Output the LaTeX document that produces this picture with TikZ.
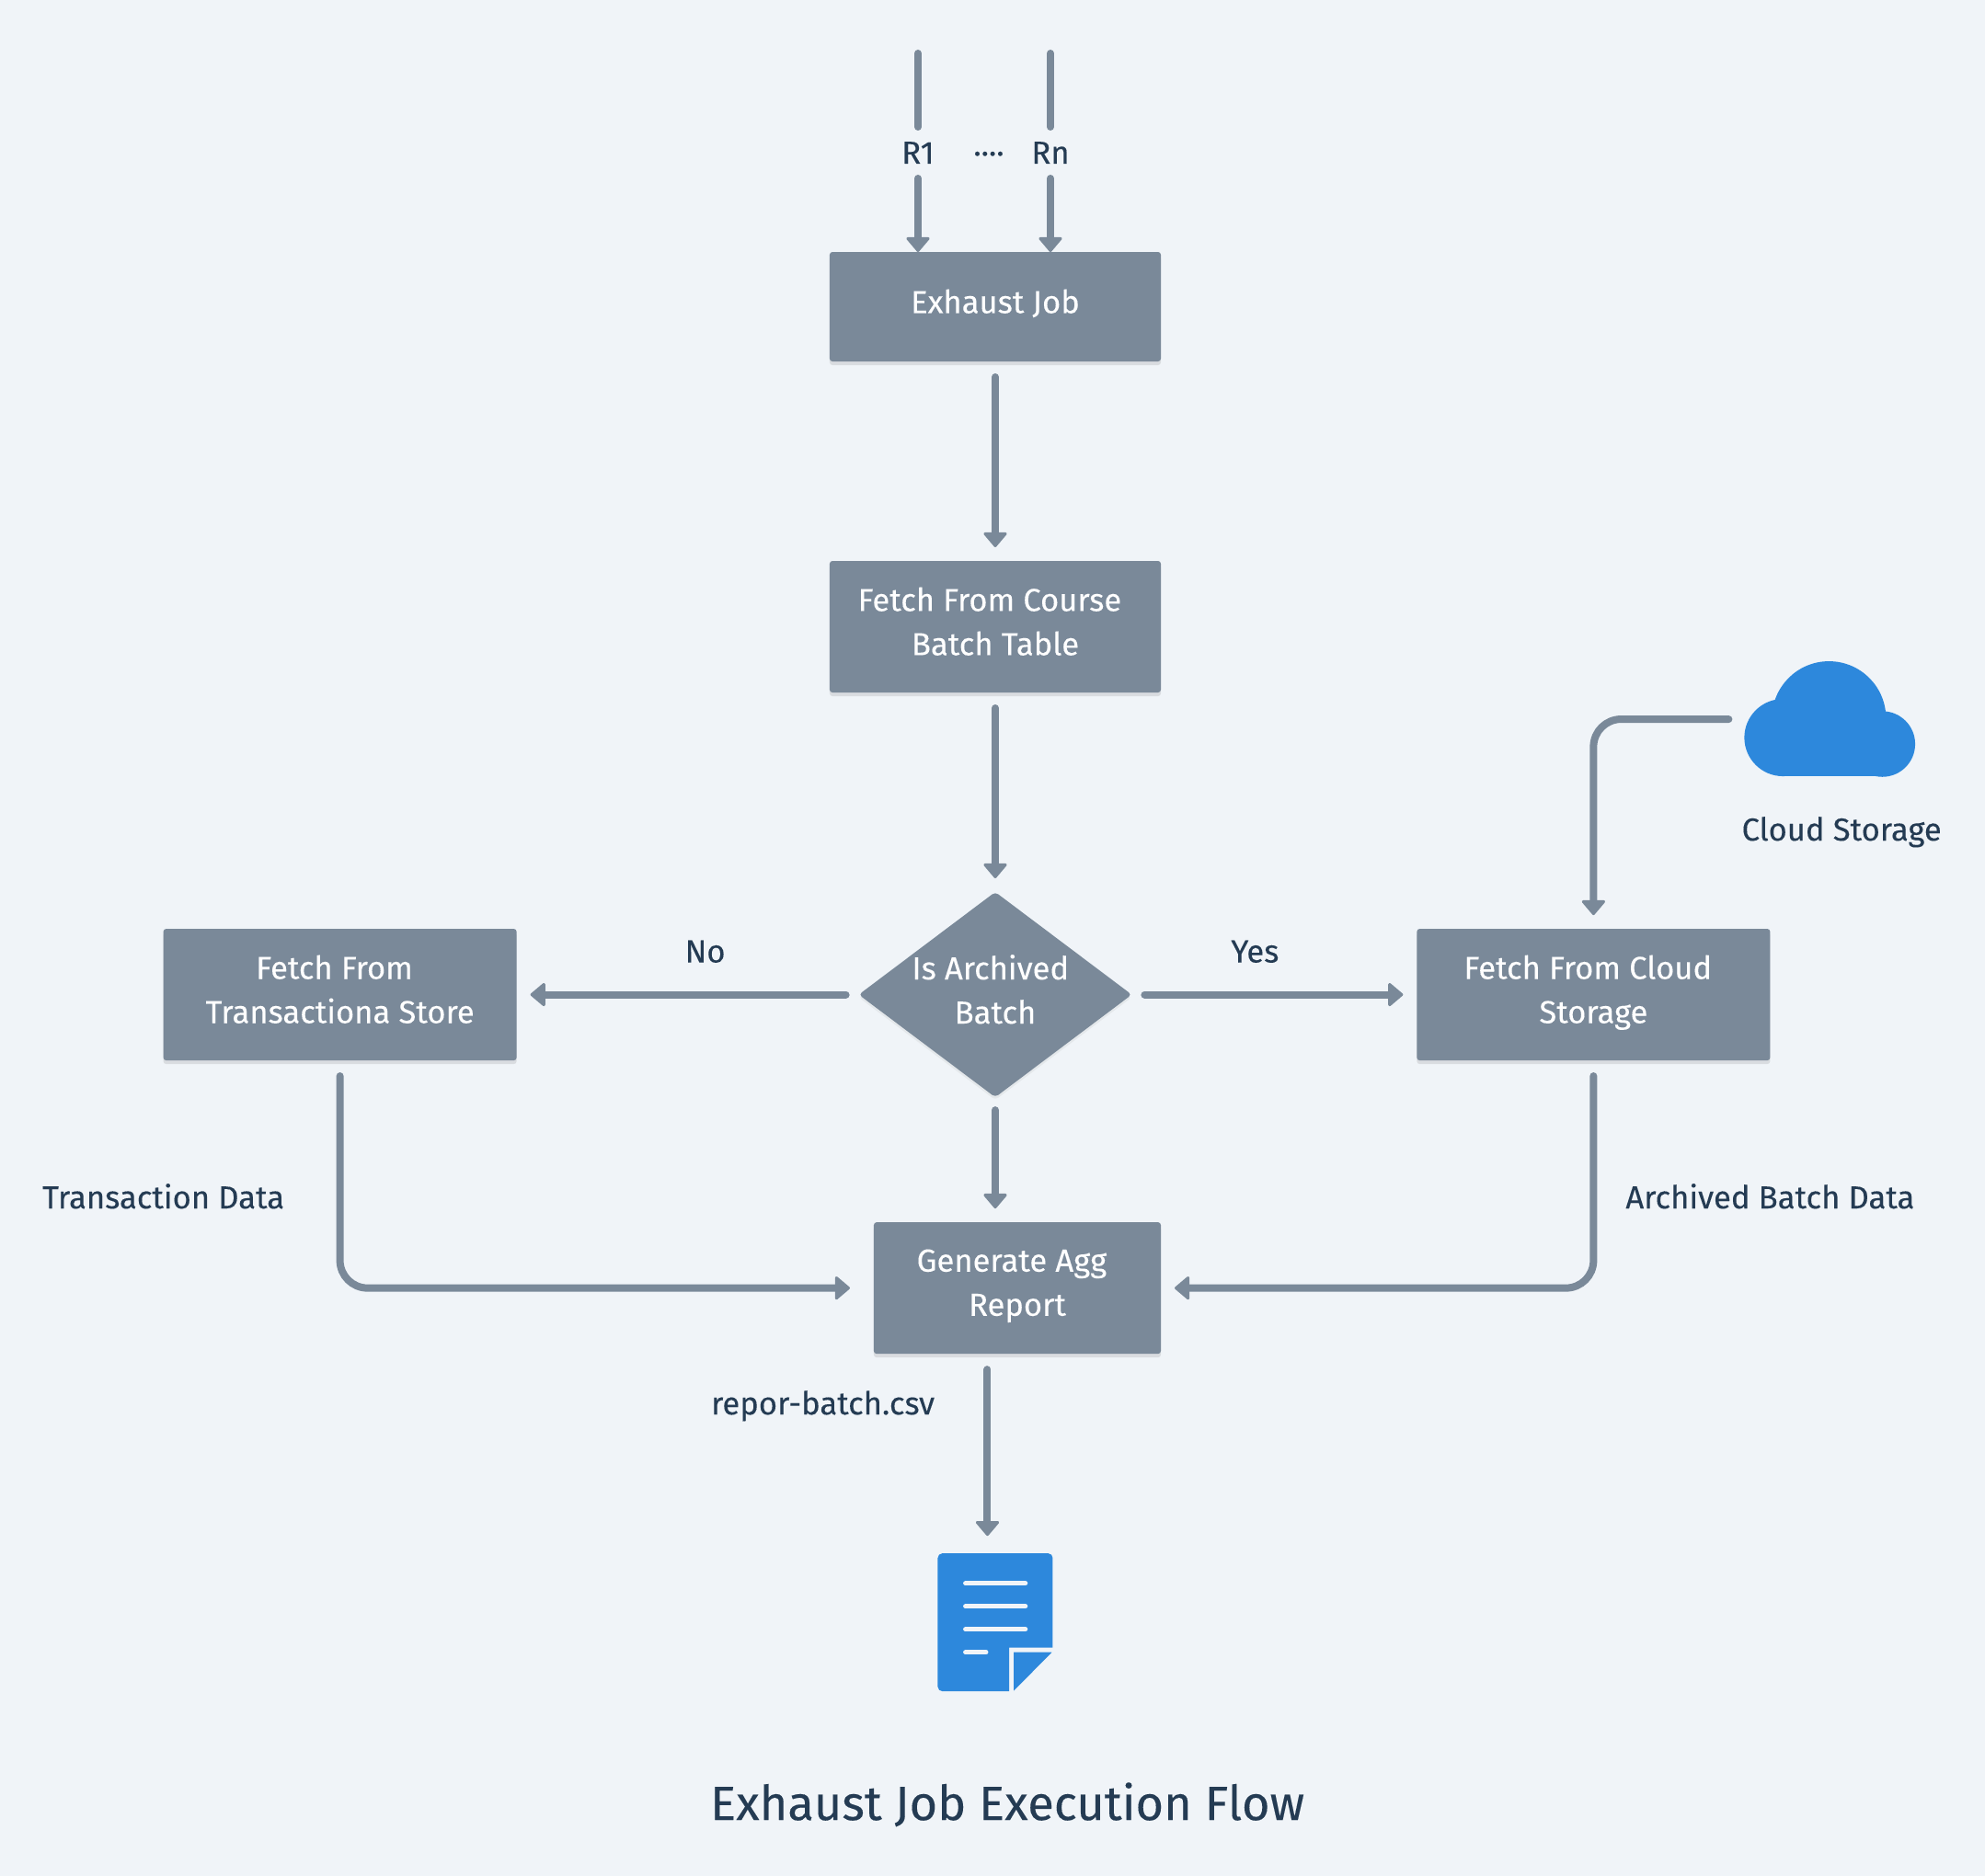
\documentclass[tikz,border=0pt]{standalone}
\usepackage{fontspec}
\setmainfont{Fira Sans}[FakeBold=0.15]
\usetikzlibrary{shapes.geometric, arrows.meta, positioning, shadows}
\definecolor{page_bg}{HTML}{F0F4F8}
\definecolor{box_gray}{HTML}{7A8999}
\definecolor{text_dark}{HTML}{243B53}
\definecolor{icon_blue}{HTML}{2D88DC}
\newcommand{\linestrut}{\rule[-6pt]{0pt}{18pt}}

\begin{document}
\begin{tikzpicture}[x=1pt, y=1pt, font=\fontsize{17.3}{24}\selectfont]
% Shapes used in the flow
\tikzstyle{gray_box} = [rectangle, rounded corners=1.5pt, minimum width=192pt, minimum height=71.5pt, inner sep=0pt, outer sep=0pt, align=center, text=white, fill=box_gray, execute at begin node=\linestrut, execute at end node=\linestrut, drop shadow={opacity=0.2, shadow xshift=0pt, shadow yshift=-2pt}]
\tikzstyle{gray_diamond} = [diamond, rounded corners=2pt, aspect=1.33, minimum width=144pt, minimum height=108pt, inner sep=0pt, outer sep=0pt, align=center, text=white, fill=box_gray, execute at begin node=\linestrut, execute at end node=\linestrut, drop shadow={opacity=0.1, shadow xshift=0pt, shadow yshift=-1.5pt}]
\tikzstyle{plain_text} = [inner sep=0pt, outer sep=0pt, text height=12pt, text depth=0pt, text=text_dark, anchor=center]
\tikzstyle{icon} = [inner sep=0pt, outer sep=0pt, minimum width=62.5pt, minimum height=75pt]
\tikzstyle{feed_line} = [line width=4pt, line cap=round, draw=box_gray]
\tikzstyle{arrow} = [feed_line, -{Triangle[width=14pt, length=8.5pt, line width=1.5pt, round]}, shorten <=8.5pt, shorten >=7.5pt]

\useasboundingbox [fill=page_bg] (-541,166.75) rectangle (538,-853.25);

% Nodes of the main column
\node (job) [gray_box, minimum width=180pt, minimum height=59.5pt] {Exhaust Job};
\node (course) [gray_box, minimum width=180pt, below=108.5pt of job] {Fetch From Course\hspace*{0.35em}\\Batch Table};
\node (archived) [gray_diamond, below=108.5pt of course] {Is Archived\hspace*{0.3em}\\Batch};
\node (left_box) [gray_box, left=186pt of archived] {Fetch From\hspace*{0.35em}\\Transactiona Store};
\node (right_box) [gray_box, right=155pt of archived] {Fetch From Cloud\hspace*{0.35em}\\Storage};
\node (report) [gray_box, minimum width=156pt, below=68pt of archived, xshift=12pt] {Generate Agg\hspace*{0.35em}\\Report};
\node (cloud_icon) [icon, minimum width=93pt, minimum height=63pt, above right=82.5pt and -14pt of right_box] {};
\node (doc_icon) [icon, below=108.5pt of report, xshift=-12pt] {};

% Nodes with plain text
\node (r_first) [plain_text, above=54pt of job, xshift=-42pt, anchor=center] {R1};
\node (r_last) [plain_text, above=54pt of job, xshift=30pt, anchor=center] {Rn};
\node (r_dots) [plain_text, above=54pt of job, xshift=-3.5pt, anchor=center] {····};
\node (no_text) [plain_text, right=102.5pt of left_box, yshift=23.5pt, anchor=center] {No};
\node (yes_text) [plain_text, left=88pt of right_box, yshift=23.5pt, anchor=center] {Yes};
\node (cloud_text) [plain_text, below=28.5pt of cloud_icon, xshift=6.4pt, anchor=center] {Cloud Storage};
\node (transaction_text) [plain_text, below=74.5pt of left_box, xshift=-96pt, anchor=center] {Transaction Data};
\node (archive_text) [plain_text, below=74.5pt of right_box, xshift=96pt, anchor=center] {Archived Batch Data};
\node (csv_text) [plain_text, below=27pt of report, xshift=-105.7pt, anchor=center] {repor-batch.csv};
\node (title) [plain_text, font=\fontsize{26.2}{30}\selectfont, text height=18pt, below=61pt of doc_icon, xshift=6.6pt, anchor=center] {Exhaust Job Execution Flow};

% Free ends of lines
\coordinate [above=48pt of r_first] (r_first_top);
\coordinate [above=48pt of r_last] (r_last_top);
\coordinate [below=0pt of report, xshift=-16.25pt] (csv_out);

% Icons
\fill [icon_blue, shift={(cloud_icon.center)}] (-25.5,-10) circle (21pt) (28.5,-13.5) circle (17.85pt) (-0.5,0.5) circle (31pt);
\fill [icon_blue, shift={(cloud_icon.center)}] (-25.5,-31) rectangle (28.5,0);
\fill [icon_blue, shift={(doc_icon.center)}] (7.6,-37.5) -- (7.6,-13.8) -- (31.25,-13.8) [rounded corners=2.5pt] -- (31.25,37.5) -- (-31.25,37.5) -- (-31.25,-37.5) [sharp corners] -- cycle;
\fill [icon_blue, shift={(doc_icon.center)}] (10.1,-16.3) -- (30.75,-16.3) -- (10.1,-37.2) -- cycle;
\draw [page_bg, line width=2.5pt, line cap=round, shift={(doc_icon.center)}] (-16.2,21.2) -- (16.4,21.2) (-16.2,8.7) -- (16.4,8.7) (-16.2,-3.8) -- (16.4,-3.8) (-16.2,-16.3) -- (-5,-16.3);

% Connections
\draw [feed_line, shorten <=8pt] (r_first) -- (r_first_top);
\draw [feed_line, shorten <=8pt] (r_last) -- (r_last_top);
\draw [arrow, shorten <=8pt, shorten >=0pt] (r_first) -- (r_first |- job.north);
\draw [arrow, shorten <=8pt, shorten >=0pt] (r_last) -- (r_last |- job.north);

\draw [arrow] (job) -- (course);
\draw [arrow] (course) -- (archived);
\draw [arrow, shorten <=7pt] (archived) -- (left_box);
\draw [arrow, shorten <=7pt] (archived) -- (right_box);
\draw [arrow, shorten <=7pt] (archived.south) -- (archived.south |- report.north);

\draw [arrow, rounded corners=15pt] (cloud_icon.west) -| (right_box.north);
\draw [arrow, rounded corners=15pt, shorten >=13pt] (left_box.south) |- (report.west);
\draw [arrow, rounded corners=15pt] (right_box.south) |- (report.east);
\draw [arrow, shorten >=9.5pt] (csv_out) -- (csv_out |- doc_icon.north);
\end{tikzpicture}
\end{document}
